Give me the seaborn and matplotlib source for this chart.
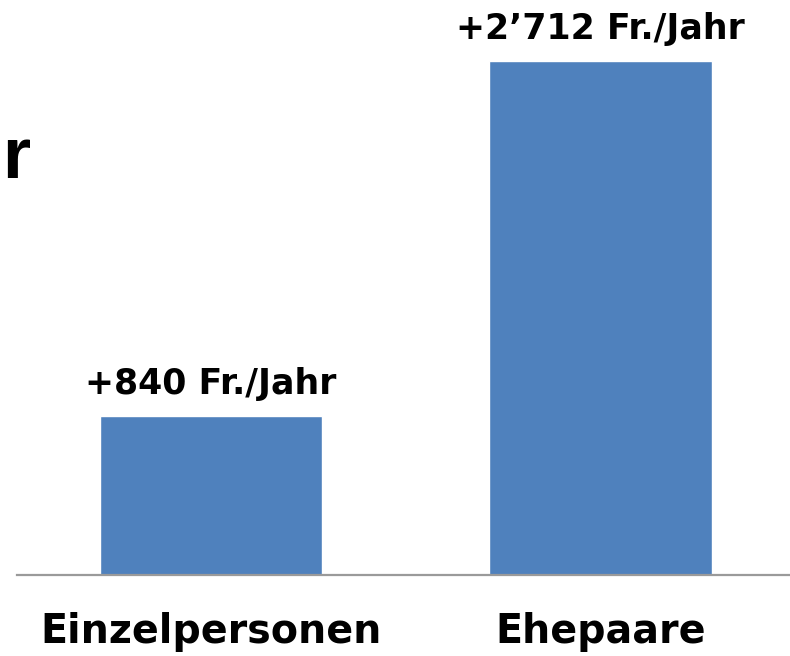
import matplotlib
matplotlib.use("Agg")
import matplotlib.pyplot as plt
import seaborn as sns
import pandas as pd

# chart data
categories = ["Einzelpersonen", "Ehepaare"]
values = [840, 2712]
value_labels = ["+840 Fr./Jahr", "+2\u2019712 Fr./Jahr"]

sns.set_style("white")
plt.rcParams['font.family'] = ['DejaVu Sans']

df = pd.DataFrame({"gruppe": categories, "betrag": values})

fig = plt.figure(figsize=(7.9, 6.56), dpi=100)
ax = fig.add_axes([17 / 790, 81 / 656, 773 / 790, 575 / 656])

sns.barplot(data=df, x="gruppe", y="betrag", color="#4F81BD", saturation=1,
            width=0.57, ax=ax)

ax.set_xlim(-0.498, 1.4865)
ax.set_ylim(0, 3034)

# value labels above bars
for i, (v, lab) in enumerate(zip(values, value_labels)):
    ax.annotate(lab, xy=(i, v), xytext=(0, 15.5), textcoords="offset points",
                ha="center", va="baseline", fontsize=25, fontweight="bold",
                color="black")

# axes styling
for side in ["top", "right", "left"]:
    ax.spines[side].set_visible(False)
ax.spines["bottom"].set_color("#9a9a9a")
ax.spines["bottom"].set_linewidth(1.6)
ax.set_yticks([])
ax.set_xlabel("")
ax.set_ylabel("")
ax.tick_params(axis="x", length=0, pad=27, labelsize=28.5)
for t in ax.get_xticklabels():
    t.set_fontweight("bold")
    t.set_color("black")

# clipped title fragment at left edge
fig.text(2 / 790, 1 - 178 / 656, "r", fontsize=52, fontweight="bold",
         family=["Liberation Sans", "DejaVu Sans"],
         ha="left", va="baseline", color="black")

fig.savefig("out.png", dpi=100)
